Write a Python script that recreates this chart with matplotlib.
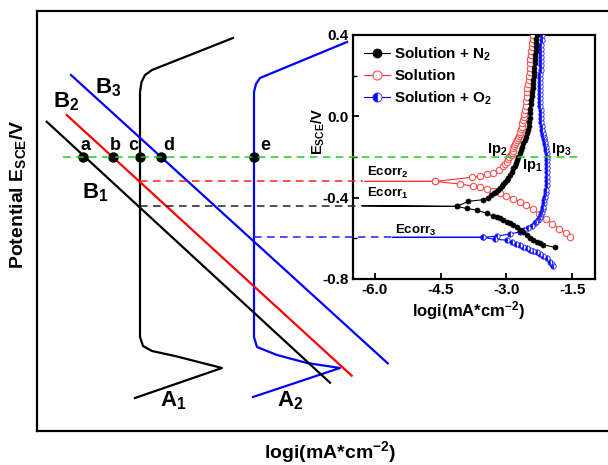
import matplotlib
matplotlib.use('Agg')
import matplotlib.pyplot as plt
from matplotlib.lines import Line2D
from matplotlib.transforms import blended_transform_factory

plt.rcParams.update({
    'font.family': ['Liberation Sans', 'DejaVu Sans'],
    'font.weight': 'bold',
    'axes.unicode_minus': False,
    'mathtext.fontset': 'custom',
    'mathtext.rm': 'Liberation Sans:bold',
    'mathtext.it': 'Liberation Sans:bold',
    'mathtext.bf': 'Liberation Sans:bold',
    'mathtext.default': 'rm',
})

# ---------------- schematic (main panel, arbitrary units) ----------------
A1_x = [196, 115, 108, 104.5, 103, 103, 106, 115, 138, 185, 98]
A1_y = [393, 361, 356, 349, 339, 94, 85, 80, 75, 63, 33]
A2_x = [310, 223, 219, 217, 217, 220, 240, 270, 303, 216]
A2_y = [389, 353, 347, 339, 94, 84, 76, 68, 63, 34]
B1_x = [9.7, 293]
B1_y = [309.3, 48.3]
B2_x = [29.7, 314.7]
B2_y = [316, 55.3]
B3_x = [34, 350.7]
B3_y = [356, 67.7]
pt_x = [46.3, 76.3, 103, 123.7, 217]
pt_y = [274.3, 274.3, 274.3, 274.3, 274.3]
pt_labels = ['a', 'b', 'c', 'd', 'e']

# ---------------- inset: polarization curves ----------------
# Solution + N2
n2_ecorr = -0.44
n2_x0 = -6.3
n2_cat_x = [-4.13, -3.91, -3.68, -3.45, -3.30, -3.22, -3.15, -3.07, -2.99, -2.92, -2.84,
            -2.76, -2.69, -2.61, -2.54, -2.46, -2.39, -2.31, -2.23, -2.16, -1.89]
n2_cat_y = [-0.443, -0.453, -0.461, -0.477, -0.491, -0.496, -0.502, -0.510, -0.518, -0.526, -0.535,
            -0.546, -0.559, -0.571, -0.584, -0.597, -0.609, -0.618, -0.625, -0.631, -0.645]
n2_an_x = [-4.13, -3.87, -3.53, -3.42, -3.34, -3.29, -3.24, -3.19, -3.15, -3.11, -3.07, -3.03,
           -2.99, -2.955, -2.92, -2.88, -2.84, -2.81, -2.78, -2.755, -2.73, -2.70, -2.67, -2.64,
           -2.61, -2.58, -2.55, -2.525, -2.50, -2.49, -2.48, -2.47, -2.46, -2.45, -2.44, -2.43,
           -2.42, -2.41, -2.40, -2.395, -2.39, -2.38, -2.37, -2.36, -2.35, -2.345, -2.34, -2.335,
           -2.33, -2.325, -2.32, -2.31]
n2_an_y = [-0.443, -0.418, -0.410, -0.400, -0.387, -0.378, -0.370, -0.362, -0.354, -0.345, -0.335, -0.324,
           -0.313, -0.302, -0.290, -0.273, -0.256, -0.243, -0.230, -0.214, -0.198, -0.182, -0.165, -0.149,
           -0.133, -0.116, -0.100, -0.083, -0.067, -0.048, -0.030, -0.008, 0.015, 0.038, 0.060, 0.080,
           0.100, 0.120, 0.140, 0.160, 0.179, 0.200, 0.220, 0.240, 0.260, 0.280, 0.300, 0.320,
           0.340, 0.360, 0.380, 0.400]

# Solution
sol_ecorr = -0.32
sol_x0 = -6.23
sol_cat_x = [-4.63, -4.06, -3.76, -3.60, -3.45, -3.30, -3.15, -3.00, -2.85, -2.70, -2.55,
             -2.40, -2.25, -2.10, -1.95, -1.80, -1.65, -1.55]
sol_cat_y = [-0.320, -0.333, -0.343, -0.350, -0.357, -0.366, -0.378, -0.390, -0.405, -0.420, -0.438,
             -0.458, -0.480, -0.503, -0.530, -0.552, -0.575, -0.592]
sol_an_x = [-4.63, -3.79, -3.60, -3.45, -3.30, -3.18, -3.07, -3.03, -2.99, -2.96, -2.93, -2.905,
            -2.88, -2.86, -2.84, -2.82, -2.80, -2.78, -2.76, -2.74, -2.72, -2.70, -2.68, -2.665,
            -2.65, -2.635, -2.62, -2.605, -2.59, -2.575, -2.56, -2.55, -2.54, -2.53, -2.52, -2.505,
            -2.49, -2.48, -2.47, -2.465, -2.46, -2.45, -2.44, -2.43, -2.42, -2.41, -2.40, -2.39]
sol_an_y = [-0.320, -0.300, -0.293, -0.285, -0.277, -0.262, -0.245, -0.234, -0.223, -0.211, -0.200, -0.190,
            -0.180, -0.169, -0.158, -0.147, -0.137, -0.127, -0.117, -0.106, -0.095, -0.085, -0.075, -0.063,
            -0.051, -0.035, -0.020, -0.005, 0.010, 0.030, 0.050, 0.073, 0.096, 0.118, 0.140, 0.160,
            0.180, 0.200, 0.220, 0.240, 0.261, 0.280, 0.300, 0.320, 0.340, 0.360, 0.380, 0.400]

# Solution + O2
o2_ecorr = -0.595
o2_x0 = -5.6
o2_cat_x = [-3.53, -3.26, -2.99, -2.88, -2.77, -2.69, -2.61, -2.54, -2.46, -2.39, -2.31, -2.23,
            -2.16, -2.08, -2.01, -1.96, -1.93]
o2_cat_y = [-0.595, -0.605, -0.609, -0.617, -0.627, -0.633, -0.641, -0.649, -0.655, -0.661, -0.668, -0.677,
            -0.688, -0.699, -0.714, -0.725, -0.735]
o2_an_x = [-3.53, -3.22, -2.92, -2.69, -2.60, -2.50, -2.42, -2.35, -2.315, -2.28, -2.255, -2.23,
           -2.21, -2.19, -2.175, -2.16, -2.145, -2.13, -2.115, -2.10, -2.09, -2.08, -2.075, -2.07,
           -2.067, -2.065, -2.067, -2.07, -2.075, -2.08, -2.09, -2.10, -2.11, -2.12, -2.13, -2.14,
           -2.155, -2.17, -2.18, -2.19, -2.20, -2.21, -2.215, -2.22, -2.225, -2.23, -2.23, -2.23,
           -2.23, -2.23, -2.23, -2.23, -2.225, -2.22, -2.215, -2.21, -2.21, -2.21, -2.205, -2.20,
           -2.195, -2.19]
o2_an_y = [-0.595, -0.589, -0.579, -0.568, -0.561, -0.551, -0.540, -0.527, -0.519, -0.511, -0.503, -0.494,
           -0.482, -0.470, -0.458, -0.445, -0.428, -0.410, -0.395, -0.379, -0.360, -0.340, -0.318, -0.297,
           -0.276, -0.255, -0.235, -0.215, -0.198, -0.180, -0.165, -0.150, -0.137, -0.125, -0.112, -0.100,
           -0.090, -0.080, -0.065, -0.050, -0.030, -0.010, 0.010, 0.030, 0.050, 0.070, 0.090, 0.110,
           0.130, 0.150, 0.170, 0.190, 0.210, 0.230, 0.250, 0.270, 0.290, 0.310, 0.330, 0.350,
           0.375, 0.400]

# reference levels (inset E) and their horizontal extents (main-panel units)
lvl_E = [-0.20, sol_ecorr, n2_ecorr, o2_ecorr]
lvl_x0 = [26, 103, 103, 217]
lvl_x1 = [543, 326, 320, 355]
lvl_col = ['#22cc22', '#ff2020', '#202020', '#2020ff']

inset_xticks = [-6.0, -4.5, -3.0, -1.5]
inset_yticks = [-0.8, -0.4, 0.0, 0.4]

# ---------------- figure ----------------
W, H = 608, 465
fig = plt.figure(figsize=(W / 100, H / 100), dpi=100)

ax = fig.add_axes([37 / W, 34 / H, (620 - 37) / W, 420 / H])
ax.set_xlim(0, 583)
ax.set_ylim(0, 420)
ax.set_xticks([])
ax.set_yticks([])
for s in ax.spines.values():
    s.set_linewidth(1.6)

lw = 1.6
ax.plot(A1_x, A1_y, color='black', lw=lw)
ax.plot(A2_x, A2_y, color='#0000ff', lw=lw)
ax.plot(B1_x, B1_y, color='black', lw=lw)
ax.plot(B2_x, B2_y, color='#ff0000', lw=lw)
ax.plot(B3_x, B3_y, color='#0000ff', lw=lw)
ax.plot(pt_x, pt_y, 'o', color='black', ms=6.5, zorder=5)

lab_x = [48, 78, 96, 132, 228]
for lx, t in zip(lab_x, pt_labels):
    ax.text(lx, 286, t, fontsize=13, ha='center', va='center')

ax.text(45, 238, 'B$_1$', fontsize=16, ha='left', va='center')
ax.text(16, 329, 'B$_2$', fontsize=16, ha='left', va='center')
ax.text(58, 343, 'B$_3$', fontsize=16, ha='left', va='center')
ax.text(123, 30, 'A$_1$', fontsize=16, ha='left', va='center')
ax.text(240, 30, 'A$_2$', fontsize=16, ha='left', va='center')

fig.text(330 / W, 1 - 452 / H, 'logi(mA*cm$^{-2}$)', fontsize=14, ha='center', va='center')
fig.text(18 / W, 1 - 194 / H, 'Potential E$_{SCE}$/V', fontsize=14, ha='center', va='center',
         rotation=90)

# ---------------- inset ----------------
axin = fig.add_axes([353 / W, 186 / H, 242 / W, 244 / H])
for s in axin.spines.values():
    s.set_linewidth(1.6)

def curve(ax_, x0, ecorr, cx, cy, ax_x, ax_y, color, mk):
    line_x = list(reversed(cx)) + [x0] + ax_x
    line_y = list(reversed(cy)) + [ecorr] + ax_y
    ax_.plot(line_x, line_y, color=color, lw=0.8, zorder=2)
    ax_.plot(cx + ax_x, cy + ax_y, linestyle='none', zorder=3, **mk)

mk_n2 = dict(marker='o', ms=3.6, mfc='black', mec='black', mew=0.5)
mk_sol = dict(marker='o', ms=4.6, mfc='white', mec='#ff5050', mew=0.8)
mk_o2 = dict(marker='o', ms=3.8, fillstyle='left', mfc='#0000ff', mfcalt='white',
             mec='#2020ff', mew=0.6)

curve(axin, sol_x0, sol_ecorr, sol_cat_x, sol_cat_y, sol_an_x, sol_an_y, '#ff3030', mk_sol)
curve(axin, o2_x0, o2_ecorr, o2_cat_x, o2_cat_y, o2_an_x, o2_an_y, '#0000ff', mk_o2)
curve(axin, n2_x0, n2_ecorr, n2_cat_x, n2_cat_y, n2_an_x, n2_an_y, 'black', mk_n2)

axin.set_xlim(-6.502, -0.977)
axin.set_ylim(-0.8, 0.4)
axin.set_xticks(inset_xticks)
axin.set_xticklabels(['%.1f' % v for v in inset_xticks])
axin.set_yticks(inset_yticks)
axin.set_yticklabels(['%.1f' % v for v in inset_yticks])
axin.set_yticks([-0.6, -0.2, 0.2], minor=True)
axin.tick_params(direction='in', length=4, width=1.3, labelsize=11, pad=3)
axin.tick_params(which='minor', direction='in', length=3, width=1.0)

# dashed reference levels spanning main panel and inset
tr = blended_transform_factory(ax.transData, axin.transData)
for e, x0, x1, c in zip(lvl_E, lvl_x0, lvl_x1, lvl_col):
    axin.add_line(Line2D([x0, x1], [e, e], transform=tr, color=c, lw=1.1,
                         linestyle=(0, (5, 3.5)), clip_on=False, zorder=4))

axin.text(-6.18, -0.274, 'Ecorr$_2$', fontsize=9.5, ha='left', va='center')
axin.text(-6.18, -0.377, 'Ecorr$_1$', fontsize=9.5, ha='left', va='center')
axin.text(-5.54, -0.559, 'Ecorr$_3$', fontsize=9.5, ha='left', va='center')
axin.text(-3.44, -0.161, 'Ip$_2$', fontsize=10.5, ha='left', va='center')
axin.text(-2.64, -0.243, 'Ip$_1$', fontsize=10.5, ha='left', va='center')
axin.text(-1.98, -0.161, 'Ip$_3$', fontsize=10.5, ha='left', va='center')

handles = [
    Line2D([], [], color='black', lw=0.8, **mk_n2),
    Line2D([], [], color='#ff3030', lw=0.8, **mk_sol),
    Line2D([], [], color='#0000ff', lw=0.8, **mk_o2),
]
for h in handles:
    h.set_markersize(6.5)
axin.legend(handles, ['Solution + N$_2$', 'Solution', 'Solution + O$_2$'],
            loc='upper left', bbox_to_anchor=(0.0, 1.0), frameon=False, fontsize=11,
            handlelength=1.7, handletextpad=0.3, labelspacing=0.4, borderaxespad=0.3)

fig.text(318 / W, 1 - 131 / H, 'E$_{SCE}$/V', fontsize=10.5, ha='center', va='center', rotation=90)
fig.text(468 / W, 1 - 311 / H, 'logi(mA*cm$^{-2}$)', fontsize=12, ha='center', va='center')

fig.savefig('out.png', dpi=100)
